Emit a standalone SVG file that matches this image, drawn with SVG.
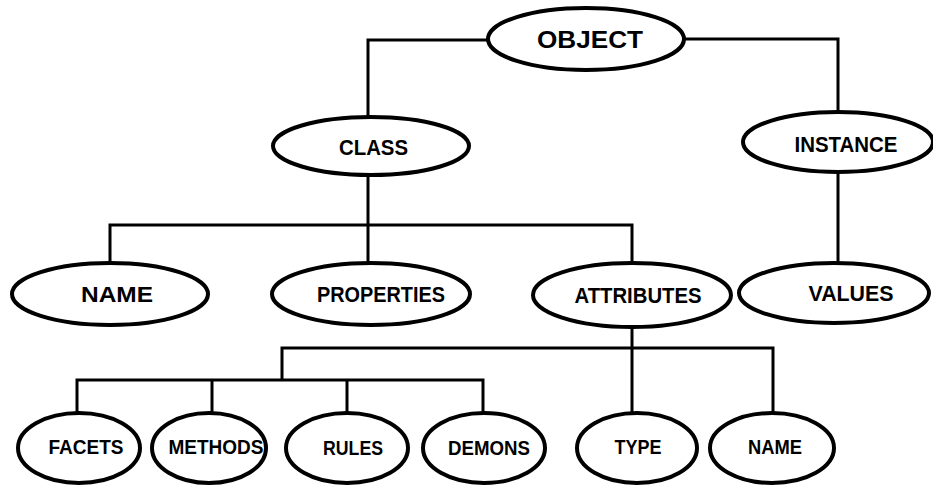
<svg xmlns="http://www.w3.org/2000/svg" width="933" height="485" viewBox="0 0 933 485">
<style>
.n ellipse{fill:#fff;stroke:#000;stroke-width:4}
.n text{font-family:"Liberation Sans",Arial,sans-serif;font-weight:bold;font-size:22px;text-anchor:middle;fill:#000}
.n.s text{font-size:20px}
#connectors path{fill:none;stroke:#000;stroke-width:3;stroke-linejoin:miter}
</style>
<rect width="933" height="485" fill="#fff"/>
<g id="connectors">
<path d="M488,40 H368 V117"/>
<path d="M684,39 H838 V112"/>
<path d="M368,175 V263"/>
<path d="M110,263 V225 H632 V263"/>
<path d="M838,172 V263"/>
<path d="M632,327 V413"/>
<path d="M282,381 V348 H773 V413"/>
<path d="M77,413 V380 H483 V413"/>
<path d="M212,380 V413"/>
<path d="M347,380 V413"/>
</g>
<g id="object" class="n"><ellipse cx="586" cy="39" rx="98" ry="31"/><text x="590" y="48" textLength="106" lengthAdjust="spacingAndGlyphs" style="font-size:24px">OBJECT</text></g>
<g id="class" class="n"><ellipse cx="371" cy="146" rx="98" ry="29"/><text x="373.5" y="155" textLength="69" lengthAdjust="spacingAndGlyphs">CLASS</text></g>
<g id="instance" class="n"><ellipse cx="838" cy="142" rx="95" ry="30"/><text x="846" y="152" textLength="103" lengthAdjust="spacingAndGlyphs">INSTANCE</text></g>
<g id="name" class="n"><ellipse cx="110" cy="294" rx="98" ry="31"/><text x="117" y="302" textLength="72" lengthAdjust="spacingAndGlyphs">NAME</text></g>
<g id="properties" class="n"><ellipse cx="371" cy="294" rx="99" ry="31"/><text x="381" y="302" textLength="128" lengthAdjust="spacingAndGlyphs">PROPERTIES</text></g>
<g id="attributes" class="n"><ellipse cx="632" cy="295" rx="99" ry="32"/><text x="638" y="303" textLength="127" lengthAdjust="spacingAndGlyphs">ATTRIBUTES</text></g>
<g id="values" class="n"><ellipse cx="834" cy="293" rx="95" ry="30"/><text x="851" y="301" textLength="85" lengthAdjust="spacingAndGlyphs">VALUES</text></g>
<g id="facets" class="n s"><ellipse cx="79" cy="448" rx="61" ry="35"/><text x="86" y="454" textLength="75" lengthAdjust="spacingAndGlyphs">FACETS</text></g>
<g id="methods" class="n s"><ellipse cx="209" cy="448" rx="57" ry="35"/><text x="216" y="454" textLength="95" lengthAdjust="spacingAndGlyphs">METHODS</text></g>
<g id="rules" class="n s"><ellipse cx="347" cy="448" rx="61" ry="35"/><text x="353" y="455" textLength="60" lengthAdjust="spacingAndGlyphs">RULES</text></g>
<g id="demons" class="n s"><ellipse cx="484" cy="448" rx="61" ry="35"/><text x="489" y="455" textLength="82" lengthAdjust="spacingAndGlyphs">DEMONS</text></g>
<g id="type" class="n s"><ellipse cx="637" cy="448" rx="60" ry="35"/><text x="638" y="454" textLength="47" lengthAdjust="spacingAndGlyphs">TYPE</text></g>
<g id="name2" class="n s"><ellipse cx="772" cy="448" rx="62" ry="35"/><text x="775" y="454" textLength="54" lengthAdjust="spacingAndGlyphs">NAME</text></g>
</svg>
